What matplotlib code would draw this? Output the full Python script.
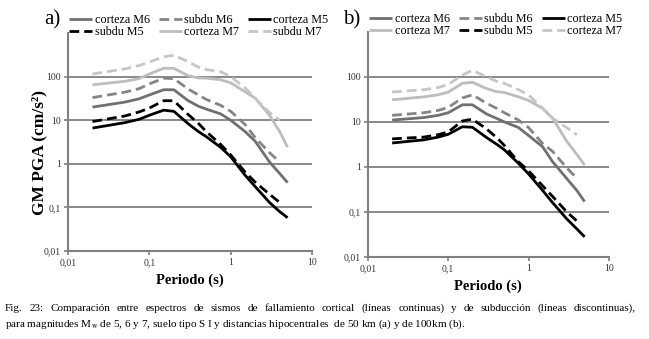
import matplotlib.pyplot as plt
from matplotlib.ticker import FixedLocator, NullLocator

plt.rcParams['font.family'] = ['Liberation Serif', 'DejaVu Serif']
plt.rcParams['mathtext.fontset'] = 'stix'

# periods (s)
periods = [0.02, 0.05, 0.075, 0.1, 0.15, 0.2, 0.3, 0.4, 0.5, 0.75, 1.0, 1.5, 2.0, 3.0, 4.0, 5.0]
periods_sub = periods[:-1]  # subduction curves stop at 4 s

# panel a) 50 km
a_cort_m6 = [20, 26, 31, 38, 50, 50, 28, 21, 18, 14, 10, 5.5, 3.3, 1.1, 0.6, 0.37]
a_sub_m6 = [33, 44, 53, 68, 92, 90, 52, 38, 30, 22, 16, 8, 4, 1.8, 1.1]
a_cort_m5 = [6.6, 8.8, 10.5, 13, 17, 16, 8.3, 5.5, 4.2, 2.4, 1.45, 0.55, 0.3, 0.13, 0.08, 0.058]
a_sub_m5 = [9.3, 12.5, 15.5, 19, 28, 28, 13.5, 8.5, 5.5, 2.8, 1.6, 0.65, 0.38, 0.2, 0.13]
a_cort_m7 = [65, 78, 90, 115, 155, 155, 105, 93, 92, 85, 72, 45, 32, 13, 5.5, 2.4]
a_sub_m7 = [115, 150, 180, 215, 285, 310, 220, 165, 145, 130, 100, 55, 32, 15, 10]

# panel b) 100 km
b_cort_m6 = [11, 12.5, 14, 16, 24, 24, 15, 12, 10, 7.5, 5, 2.8, 1.3, 0.55, 0.3, 0.17]
b_sub_m6 = [14, 16, 18, 21, 34, 40, 26, 20, 16, 11, 7.5, 3.3, 2.2, 0.95, 0.56]
b_cort_m5 = [3.4, 4.0, 4.6, 5.3, 7.8, 7.6, 4.5, 3.2, 2.4, 1.2, 0.7, 0.3, 0.16, 0.07, 0.042, 0.028]
b_sub_m5 = [4.2, 4.6, 5.2, 6.0, 10.5, 11.5, 7.0, 4.5, 3.0, 1.3, 0.82, 0.38, 0.22, 0.1, 0.063]
b_cort_m7 = [31, 36, 40, 46, 72, 76, 55, 47, 45, 36, 30, 20, 12, 3.7, 1.9, 1.1]
b_sub_m7 = [46, 52, 58, 68, 110, 140, 100, 80, 72, 52, 40, 20, 12, 7.4, 5.2]

ytick_vals = [0.01, 0.1, 1, 10, 100]
ytick_labels = ["0,01", "0,1", "1", "10", "100"]
xtick_vals = [0.01, 0.1, 1, 10]
xtick_labels = ["0,01", "0,1", "1", "10"]

caption_1 = ("Fig. 23: Comparación entre espectros de sismos de fallamiento cortical "
			 "(líneas continuas) y de subducción (líneas discontinuas),")
caption_2 = ("para magnitudes M$_{\\rm w}$ de 5, 6 y 7, suelo tipo S I y distancias "
			 "hipocentrales  de 50 km (a) y de 100km (b).")

GRAY = "#808080"
DASH = (3.5, 1.8)


def style_axes(ax):
	ax.set_xscale("log")
	ax.set_yscale("log")
	ax.set_xlim(0.01, 10)
	ax.set_ylim(0.01, 1000)
	ax.yaxis.set_major_locator(FixedLocator(ytick_vals))
	ax.yaxis.set_minor_locator(NullLocator())
	ax.xaxis.set_major_locator(FixedLocator(xtick_vals))
	ax.xaxis.set_minor_locator(NullLocator())
	ax.set_yticklabels(ytick_labels)
	ax.set_xticklabels(xtick_labels)
	for side in ["top", "right"]:
		ax.spines[side].set_visible(False)
	for side in ["left", "bottom"]:
		ax.spines[side].set_color(GRAY)
		ax.spines[side].set_linewidth(1.5)
	ax.tick_params(axis="both", colors=GRAY, labelcolor="#333333", labelsize=7,
				   length=3, width=1.2, direction="out", pad=2)
	ax.yaxis.grid(True, color=GRAY, linewidth=1.3)
	ax.set_axisbelow(True)
	ax.set_xlabel("Periodo (s)", fontsize=10.5, fontweight="bold", labelpad=5)


def plot_panel(ax, series, legend_order):
	handles = {}
	for key, (x, y, color, dashed) in series.items():
		ln, = ax.plot(x, y, color=color, linewidth=2.0, solid_capstyle="butt")
		if dashed:
			ln.set_dashes(DASH)
		handles[key] = ln
	# legend: 3 columns filled column-wise, so interleave rows
	row1, row2 = legend_order
	order = [row1[0], row2[0], row1[1], row2[1], row1[2], row2[2]]
	hs = [handles[k[0]] for k in order]
	labels = [k[1] for k in order]
	ax.legend(hs, labels, loc="lower left", bbox_to_anchor=(0.005, 0.975), ncol=3,
			  frameon=False, fontsize=8.7, handlelength=1.9, handletextpad=0.2,
			  columnspacing=0.75, labelspacing=0.05, borderaxespad=0.0, borderpad=0.0)


def justified_line(fig, text, x0, x1, y, size):
	"""Place words so the line fills x0..x1 (figure pixels); y in figure fraction."""
	words = [w for w in text.split(" ") if w]
	texts = [fig.text(0, y, w, fontsize=size, ha="left", va="center") for w in words]
	renderer = fig.canvas.get_renderer()
	widths = [t.get_window_extent(renderer).width for t in texts]
	gap = (x1 - x0 - sum(widths)) / (len(words) - 1)
	x = x0
	W = fig.bbox.width
	for t, w in zip(texts, widths):
		t.set_x(x / W)
		x += w + gap


fig = plt.figure(figsize=(6.49, 3.39), dpi=100)
ax_a = fig.add_axes([0.1048, 0.2596, 0.376, 0.643])
ax_b = fig.add_axes([0.567, 0.242, 0.371, 0.664])

C_M6 = "#707070"
C_M6S = "#858585"
C_M7 = "#bdbdbd"
C_M7S = "#c6c6c6"

series_a = {
	"c6": (periods, a_cort_m6, C_M6, False),
	"s6": (periods_sub, a_sub_m6, C_M6S, True),
	"c5": (periods, a_cort_m5, "black", False),
	"s5": (periods_sub, a_sub_m5, "black", True),
	"c7": (periods, a_cort_m7, C_M7, False),
	"s7": (periods_sub, a_sub_m7, C_M7S, True),
}
plot_panel(ax_a, series_a,
		   ([("c6", "corteza M6"), ("s6", "subdu M6"), ("c5", "corteza M5")],
			[("s5", "subdu M5"), ("c7", "corteza M7"), ("s7", "subdu M7")]))

series_b = {
	"c6": (periods, b_cort_m6, C_M6, False),
	"s6": (periods_sub, b_sub_m6, C_M6S, True),
	"c5": (periods, b_cort_m5, "black", False),
	"s5": (periods_sub, b_sub_m5, "black", True),
	"c7": (periods, b_cort_m7, C_M7, False),
	"s7": (periods_sub, b_sub_m7, C_M7S, True),
}
plot_panel(ax_b, series_b,
		   ([("c6", "corteza M6"), ("s6", "subdu M6"), ("c5", "corteza M5")],
			[("c7", "corteza M7"), ("s5", "subdu M5"), ("s7", "corteza M7")]))

for ax in (ax_a, ax_b):
	style_axes(ax)

ax_a.set_ylabel("GM PGA (cm/s²)", fontsize=12.5, fontweight="bold")
ax_a.yaxis.set_label_coords(-0.085, 0.45)

fig.text(0.068, 0.94, "a)", fontsize=15, ha="left", va="center")
fig.text(0.528, 0.94, "b)", fontsize=15, ha="left", va="center")

justified_line(fig, caption_1, 5, 636, 0.09, 8)
fig.text(5 / 649, 0.043, caption_2, fontsize=8, ha="left", va="center")

fig.savefig("out.png", dpi=100)
